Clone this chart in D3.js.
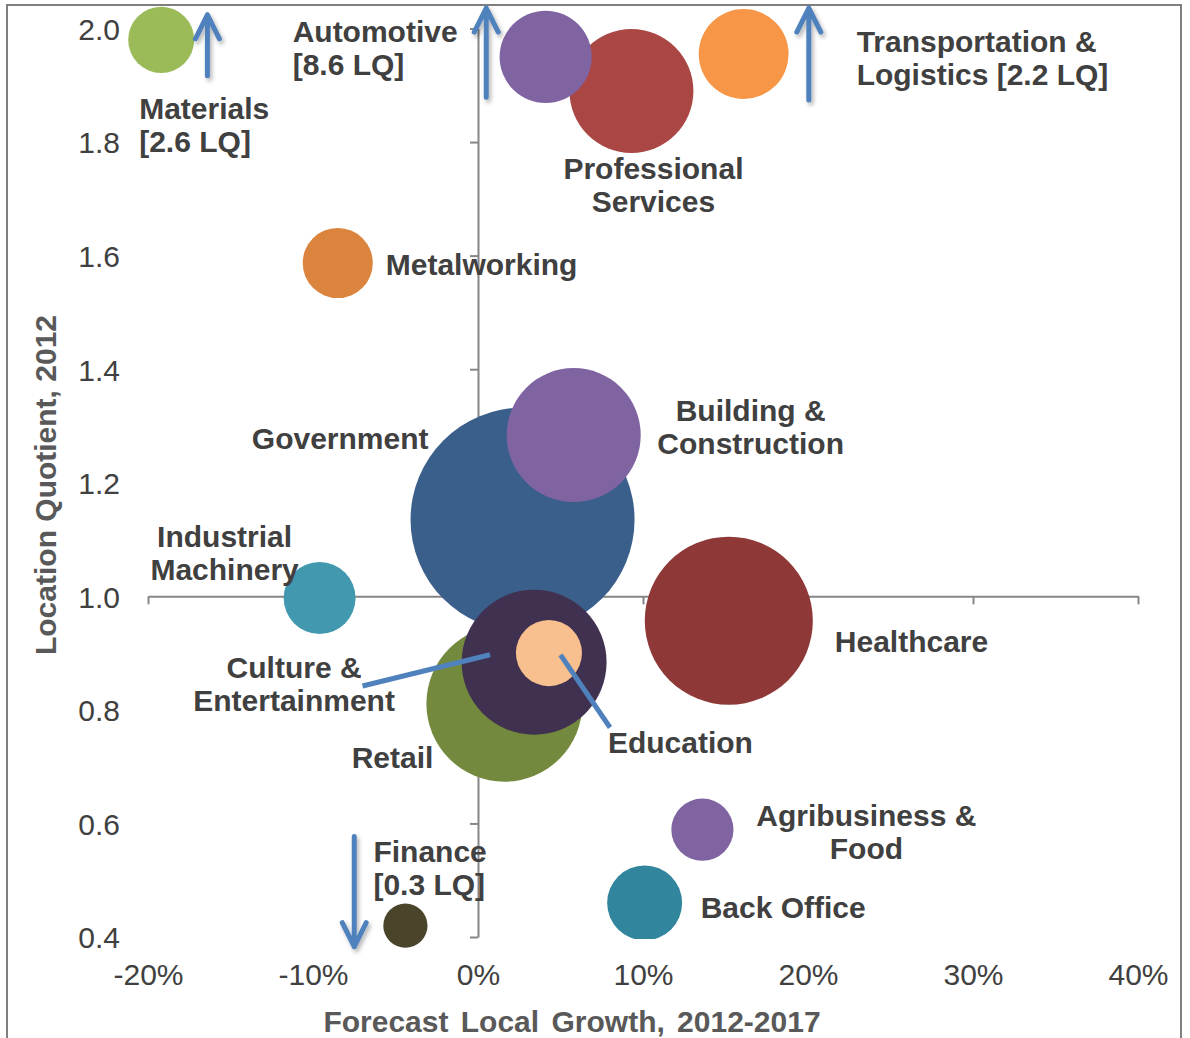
<!DOCTYPE html>
<html>
<head>
<meta charset="utf-8">
<script src="https://cdn.jsdelivr.net/npm/d3@7"></script>
<style>
  body { margin: 0; background: #fff; }
  svg { display: block; font-family: "Liberation Sans", Arial, sans-serif; }
</style>
</head>
<body>
<div id="chart"></div>
<script>
// data (draw order = list order)
const sectors = ["Professional Services", "Automotive", "Transportation & Logistics", "Materials",
  "Metalworking", "Government", "Building & Construction", "Industrial Machinery", "Healthcare",
  "Retail", "Culture & Entertainment", "Education", "Agribusiness & Food", "Back Office", "Finance"];
const growth = [0.093, 0.041, 0.161, -0.192, -0.085, 0.027, 0.058, -0.096, 0.152,
  0.016, 0.034, 0.043, 0.136, 0.101, -0.044];
// LQ as plotted (off-scale sectors are pinned to the edge of the chart)
const lqShown = [1.89, 1.95, 1.955, 1.98, 1.587, 1.135, 1.284, 0.997, 0.957,
  0.811, 0.884, 0.90, 0.589, 0.46, 0.42];
const employment = [30.6, 16.9, 16.1, 8.7, 9.8, 100, 35.8, 10.3, 56.3,
  48.5, 41.9, 8.7, 7.7, 11.2, 3.9];
const colors = ["#aa4644", "#8064a2", "#f79646", "#9bbb59", "#db843d", "#3a5f8b", "#8064a2",
  "#4198af", "#8e3937", "#738a3e", "#403151", "#f9c08f", "#8064a2", "#31859c", "#4a452a"];
// real LQ of the sectors that fall outside the axis range
const actualLQ = { "Automotive": 8.6, "Transportation & Logistics": 2.2, "Materials": 2.6, "Finance": 0.3 };

const xTicks = [-0.2, -0.1, 0, 0.1, 0.2, 0.3, 0.4];
const yTicks = [0.4, 0.6, 0.8, 1.0, 1.2, 1.4, 1.6, 1.8, 2.0];

// annotation arrows for off-scale values (growth, LQ from, LQ to)
const arrows = [
  { x: -0.164, from: 1.917, to: 2.024 },
  { x: 0.005, from: 1.879, to: 2.036 },
  { x: 0.2005, from: 1.874, to: 2.036 },
  { x: -0.075, from: 0.577, to: 0.383 }
];
// leader lines for labels sitting away from their bubble
const leaders = [
  [[-0.070, 0.842], [0.0073, 0.897]],
  [[0.050, 0.897], [0.080, 0.769]]
];

const labelLines = {
  "Professional Services": ["Professional", "Services"],
  "Automotive": ["Automotive", "[" + actualLQ["Automotive"] + " LQ]"],
  "Transportation & Logistics": ["Transportation &", "Logistics [" + actualLQ["Transportation & Logistics"] + " LQ]"],
  "Materials": ["Materials", "[" + actualLQ["Materials"] + " LQ]"],
  "Metalworking": ["Metalworking"],
  "Government": ["Government"],
  "Building & Construction": ["Building &", "Construction"],
  "Industrial Machinery": ["Industrial", "Machinery"],
  "Healthcare": ["Healthcare"],
  "Retail": ["Retail"],
  "Culture & Entertainment": ["Culture &", "Entertainment"],
  "Education": ["Education"],
  "Agribusiness & Food": ["Agribusiness &", "Food"],
  "Back Office": ["Back Office"],
  "Finance": ["Finance", "[" + actualLQ["Finance"] + " LQ]"]
};
// label offset from bubble centre, px
const labelLayout = {
  "Professional Services": { dx: 22, dy: 88, anchor: "middle" },
  "Automotive": { dx: -253, dy: -15, anchor: "start" },
  "Transportation & Logistics": { dx: 113, dy: -2, anchor: "start" },
  "Materials": { dx: -22, dy: 79, anchor: "start" },
  "Metalworking": { dx: 48, dy: 12, anchor: "start" },
  "Government": { dx: -94, dy: -71, anchor: "end" },
  "Building & Construction": { dx: 177, dy: -14, anchor: "middle" },
  "Industrial Machinery": { dx: -95, dy: -51, anchor: "middle" },
  "Healthcare": { dx: 106, dy: 31, anchor: "start" },
  "Retail": { dx: -71, dy: 64, anchor: "end" },
  "Culture & Entertainment": { dx: -240, dy: 16, anchor: "middle" },
  "Education": { dx: 59, dy: 100, anchor: "start" },
  "Agribusiness & Food": { dx: 164, dy: -4, anchor: "middle" },
  "Back Office": { dx: 56, dy: 15, anchor: "start" },
  "Finance": { dx: -32, dy: -64, anchor: "start" }
};

const width = 1190, height = 1038;

const svg = d3.select("#chart").append("svg")
  .attr("width", width)
  .attr("height", height);

const defs = svg.append("defs");
defs.append("clipPath").attr("id", "plotClip")
  .append("rect").attr("x", 0).attr("y", 0).attr("width", width).attr("height", 939);
defs.append("filter").attr("id", "shadow")
  .attr("x", "-50%").attr("y", "-20%").attr("width", "200%").attr("height", "140%")
  .append("feDropShadow")
  .attr("dx", 2).attr("dy", 3).attr("stdDeviation", 2)
  .attr("flood-color", "#000").attr("flood-opacity", 0.3);

// chart border
svg.append("rect")
  .attr("x", 7).attr("y", 5)
  .attr("width", 1174).attr("height", 1060)
  .attr("fill", "none")
  .attr("stroke", "#7f7f7f")
  .attr("stroke-width", 2);

const x = d3.scaleLinear().domain([-0.2, 0.4]).range([148, 1138]);
const y = d3.scaleLinear().domain([0.4, 2.0]).range([937, 28.5]);
const r = d3.scaleSqrt().domain([0, 100]).range([0, 112]);

const data = sectors.map((s, i) => ({
  name: s, g: growth[i], lq: lqShown[i], size: employment[i], color: colors[i]
}));

// axes crossing at (0%, 1.0)
const xAxisG = svg.append("g")
  .attr("transform", "translate(0," + y(1.0) + ")")
  .call(d3.axisBottom(x).tickValues(xTicks).tickSize(8).tickSizeOuter(0).tickFormat(""));
const yAxisG = svg.append("g")
  .attr("transform", "translate(" + x(0) + ",0)")
  .call(d3.axisLeft(y).tickValues(yTicks).tickSize(8).tickSizeOuter(0).tickFormat(""));
[xAxisG, yAxisG].forEach(g => {
  g.selectAll("path, line").attr("stroke", "#868686").attr("stroke-width", 2);
});

// tick labels sit at the low end, like Excel (plain hyphen for negatives)
const pct = d => Math.round(d * 100) + "%";

svg.append("g")
  .attr("transform", "translate(0,985)")
  .call(d3.axisBottom(x).tickValues(xTicks).tickSize(0).tickFormat(pct))
  .call(g => g.select(".domain").remove())
  .selectAll("text")
  .attr("y", 0).attr("dy", 0)
  .attr("font-size", 30)
  .attr("font-family", "Liberation Sans, Arial, sans-serif")
  .attr("fill", "#404040");

svg.append("g")
  .attr("transform", "translate(120,0)")
  .call(d3.axisLeft(y).tickValues(yTicks).tickSize(0).tickFormat(d3.format(".1f")))
  .call(g => g.select(".domain").remove())
  .selectAll("text")
  .attr("x", 0).attr("dy", "0.36em")
  .attr("font-size", 30)
  .attr("font-family", "Liberation Sans, Arial, sans-serif")
  .attr("fill", "#404040");

// axis titles
svg.append("text")
  .attr("transform", "translate(56,485) rotate(-90)")
  .attr("text-anchor", "middle")
  .attr("font-size", 30)
  .attr("font-weight", "bold")
  .attr("fill", "#595959")
  .text("Location Quotient, 2012");

svg.append("text")
  .attr("x", 572).attr("y", 1032)
  .attr("text-anchor", "middle")
  .attr("font-size", 30)
  .attr("font-weight", "bold")
  .attr("word-spacing", 4)
  .attr("fill", "#595959")
  .text("Forecast Local Growth, 2012-2017");

// bubbles
svg.append("g").selectAll("circle")
  .data(data)
  .join("circle")
  .attr("clip-path", d => d.name === "Finance" ? null : "url(#plotClip)")
  .attr("cx", d => x(d.g))
  .attr("cy", d => y(d.lq))
  .attr("r", d => r(d.size))
  .attr("fill", d => d.color);

// leader lines
svg.append("g").selectAll("line")
  .data(leaders)
  .join("line")
  .attr("x1", d => x(d[0][0])).attr("y1", d => y(d[0][1]))
  .attr("x2", d => x(d[1][0])).attr("y2", d => y(d[1][1]))
  .attr("stroke", "#4f81bd")
  .attr("stroke-width", 5);

// off-scale arrows
const arrowG = svg.append("g").selectAll("g")
  .data(arrows)
  .join("g")
  .attr("filter", "url(#shadow)")
  .attr("stroke", "#4f81bd")
  .attr("stroke-width", 5)
  .attr("fill", "none")
  .attr("stroke-linecap", "round")
  .attr("stroke-linejoin", "round");
arrowG.append("path")
  .attr("d", d => {
    const ax = x(d.x), y1 = y(d.from), y2 = y(d.to);
    const dir = y2 < y1 ? 1 : -1;
    return "M" + ax + "," + y1 + "V" + y2 +
      "M" + (ax - 12) + "," + (y2 + dir * 24) + "L" + ax + "," + y2 + "L" + (ax + 12) + "," + (y2 + dir * 24);
  });

// labels
const labels = svg.append("g").selectAll("text")
  .data(data)
  .join("text")
  .attr("font-size", 30)
  .attr("font-weight", "bold")
  .attr("fill", "#404040")
  .attr("text-anchor", d => labelLayout[d.name].anchor)
  .attr("x", d => x(d.g) + labelLayout[d.name].dx)
  .attr("y", d => y(d.lq) + labelLayout[d.name].dy);
labels.each(function(d) {
  const t = d3.select(this);
  const px = x(d.g) + labelLayout[d.name].dx;
  labelLines[d.name].forEach((line, i) => {
    t.append("tspan")
      .attr("x", px)
      .attr("dy", i === 0 ? 0 : 33)
      .text(line);
  });
});
</script>
</body>
</html>
